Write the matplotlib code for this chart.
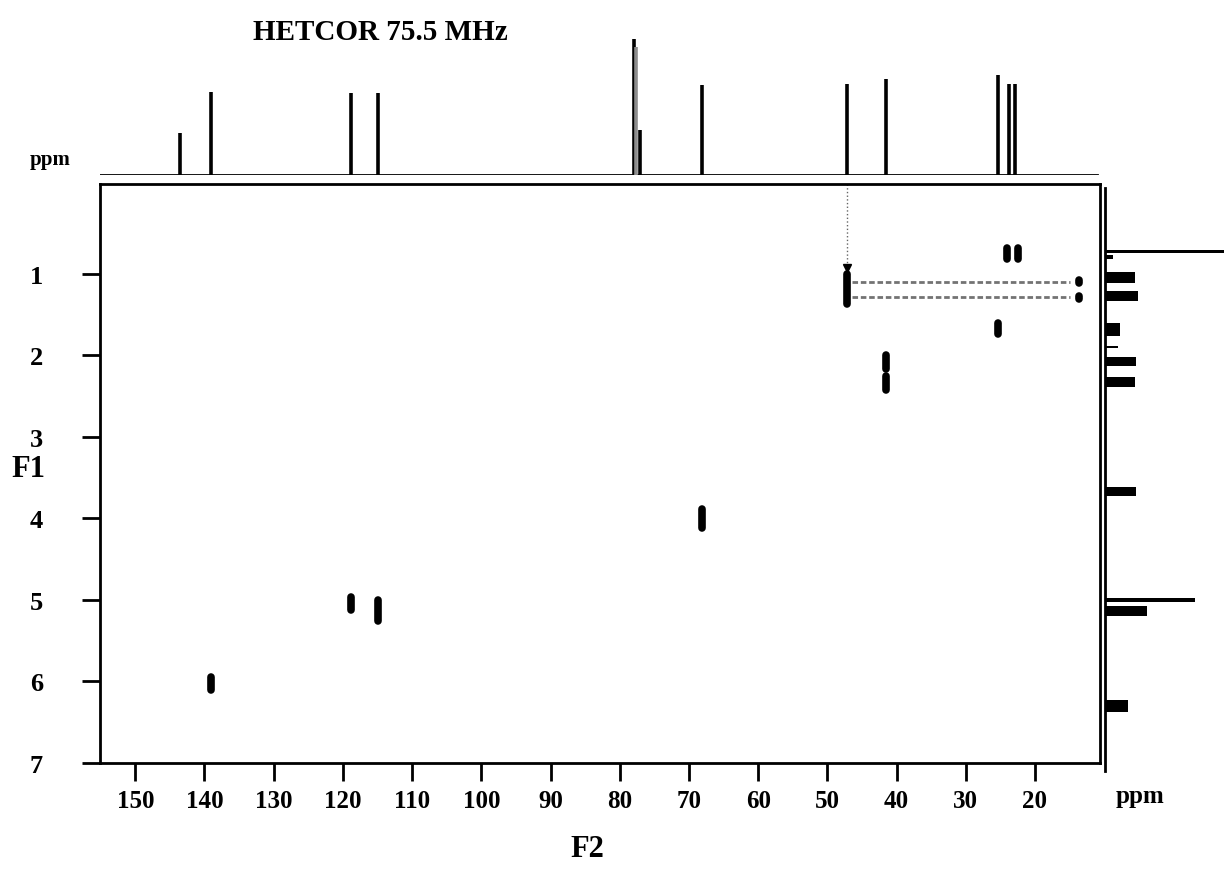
import matplotlib.pyplot as plt

plt.rcParams['font.family'] = ['Liberation Serif', 'DejaVu Serif']
plt.rcParams['font.weight'] = 'bold'

# 13C projection on top: shift (ppm) and peak height
c13_ppm = [143.5, 139.0, 118.8, 114.9, 78.0, 77.6, 77.0, 68.1, 47.2, 41.5, 25.3, 23.8, 22.9]
c13_height = [42, 83, 82, 82, 136, 128, 45, 90, 91, 96, 100, 91, 91]
c13_shade = ['k', 'k', 'k', 'k', 'k', '0.55', 'k', 'k', 'k', 'k', 'k', 'k', 'k']

# 1H projection on the right: centre (ppm), multiplet width (ppm), intensity
h1_ppm = [0.73, 0.80, 1.05, 1.27, 1.68, 1.90, 2.08, 2.33, 3.67, 5.00, 5.14, 6.30]
h1_width = [0.03, 0.05, 0.14, 0.12, 0.16, 0.03, 0.11, 0.12, 0.12, 0.05, 0.12, 0.15]
h1_height = [140, 8, 30, 33, 15, 13, 31, 30, 31, 90, 42, 23]

# cross peaks: carbon shift and proton range
cross_c = [139.0, 118.8, 114.9, 68.1, 47.2, 41.5, 41.5, 25.3, 24.1, 22.4, 13.6, 13.6]
cross_h_top = [5.95, 4.97, 5.00, 3.88, 1.00, 2.00, 2.25, 1.60, 0.68, 0.68, 1.08, 1.27]
cross_h_bottom = [6.10, 5.12, 5.26, 4.12, 1.37, 2.17, 2.43, 1.74, 0.82, 0.82, 1.12, 1.31]

# t1-noise streaks
streak_h = [1.10, 1.29]
streak_from, streak_to = 46.5, 15.0

x_ticks = [150, 140, 130, 120, 110, 100, 90, 80, 70, 60, 50, 40, 30, 20]
y_ticks = [1, 2, 3, 4, 5, 6, 7]

W, H = 1224, 878
fig = plt.figure(figsize=(W / 100, H / 100), dpi=100)

box = [100 / W, (H - 764) / H, 1000 / W, 579 / H]
ax = fig.add_axes(box)
ax.set_xlim(155.1, 10.6)
ax.set_ylim(7.0, -0.1)
ax.set_xticks(x_ticks)
ax.set_yticks(y_ticks)
ax.tick_params(axis='x', direction='out', length=13, width=2, labelsize=18, pad=6)
ax.tick_params(axis='y', direction='out', length=13, width=2, labelsize=19, pad=28)
for s in ax.spines.values():
    s.set_linewidth(2)

ax.vlines(cross_c, cross_h_top, cross_h_bottom, colors='k', lw=5.5, capstyle='round')
ax.hlines(streak_h, streak_from, streak_to, colors='0.45', lw=2, linestyles=(0, (2, 1)))
ax.vlines(47.2, -0.1, 0.9, colors='0.4', lw=1, linestyles=':')
ax.plot(47.2, 0.93, marker='v', ms=6, color='k')

# top 13C trace
ax_top = fig.add_axes([box[0], (H - 176) / H, box[2], 146 / H])
ax_top.set_xlim(155.1, 10.6)
ax_top.set_ylim(0, 146)
ax_top.axis('off')
ax_top.plot([155.4, 11.0], [0, 0], color='k', lw=2)
ax_top.vlines(c13_ppm, 0, c13_height, colors=c13_shade, lw=2.6)

# right 1H trace
ax_r = fig.add_axes([1105 / W, box[1], 119 / W, box[3]])
ax_r.set_ylim(7.0, -0.1)
ax_r.set_xlim(0, 119)
ax_r.axis('off')
ax_r.plot([0, 0], [-0.05, 7.1], color='k', lw=2, clip_on=False)
ax_r.barh(h1_ppm, h1_height, height=h1_width, left=0, color='k')

fig.text(380 / W, 1 - 32 / H, 'HETCOR 75.5 MHz', ha='center', va='center', size=21, weight='bold')
fig.text(50 / W, 1 - 160 / H, 'ppm', ha='center', va='center', size=15)
fig.text(1140 / W, 1 - 797 / H, 'ppm', ha='center', va='center', size=18)
fig.text(587 / W, 1 - 850 / H, 'F2', ha='center', va='center', size=22)
fig.text(28 / W, 1 - 470 / H, 'F1', ha='center', va='center', size=22)

fig.savefig('out.png', dpi=100)
